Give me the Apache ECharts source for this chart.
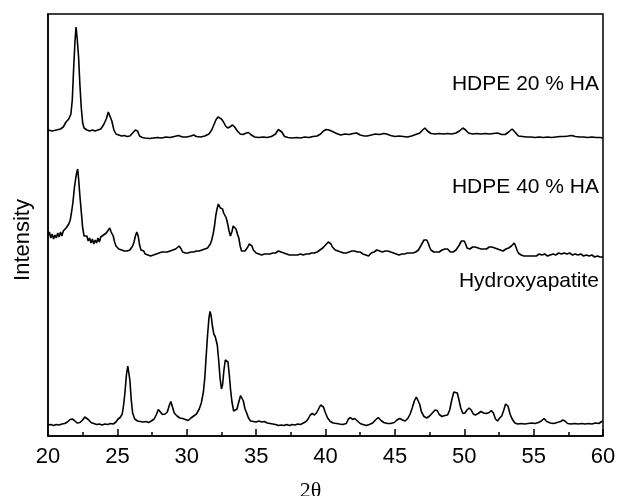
<!DOCTYPE html>
<html>
<head>
<meta charset="utf-8">
<title>XRD patterns</title>
<script src="https://cdn.jsdelivr.net/npm/echarts@6/dist/echarts.min.js"></script>
<style>
  html, body { margin: 0; padding: 0; background: #fff; }
  #chart { width: 619px; height: 496px; }
</style>
</head>
<body>
<div id="chart"></div>
<script>
// Diffraction patterns, stacked with vertical offsets: [2θ (deg), intensity (a.u.)]
const hdpe20 = [
  [20.0,306],[20.3,305],[20.6,306],[20.9,307],[21.1,309],[21.3,314],[21.5,317],[21.65,322],[21.75,336],
  [21.85,368],[21.95,396],[22.02,409],[22.1,398],[22.2,380],[22.3,351],[22.4,328],[22.5,313],[22.6,308],
  [22.8,306],[23.0,305],[23.2,306],[23.4,305],[23.6,306],[23.8,307],[24.0,311],[24.2,317],[24.35,324],
  [24.45,323],[24.6,315],[24.75,306],[24.9,302],[25.1,301],[25.3,300],[25.5,300.5],[25.7,299.5],[25.9,300],
  [26.1,303],[26.3,306],[26.45,305],[26.6,300],[26.8,298.5],[27.0,298],[27.3,297.5],[27.6,298],[27.9,298.5],
  [28.2,298],[28.5,299],[28.8,298.5],[29.1,299.5],[29.4,300.5],[29.7,299],[30.0,299],[30.3,300],[30.5,301],
  [30.7,299.5],[31.0,299],[31.3,300],[31.6,302],[31.8,306],[31.95,311],[32.1,316],[32.25,319],[32.35,318.5],
  [32.5,317],[32.65,314],[32.8,310],[32.95,308],[33.1,309],[33.3,311],[33.45,309],[33.65,305],[33.85,302],
  [34.05,301.5],[34.3,303],[34.45,303.5],[34.65,301],[34.9,299],[35.2,298.5],[35.5,299],[35.8,298.5],
  [36.1,299.5],[36.4,302],[36.6,306.5],[36.7,307.5],[36.85,304],[37.05,299.5],[37.3,298.5],[37.6,298],
  [37.9,298.5],[38.2,298],[38.5,299],[38.8,298.5],[39.1,299.5],[39.4,300],[39.65,302],[39.85,305],[40.05,306.5],
  [40.25,306],[40.5,304.5],[40.8,302.5],[41.1,301],[41.4,302],[41.7,301.5],[42.0,302.5],[42.25,303],[42.5,301],
  [42.8,300],[43.0,300],[43.3,301],[43.6,302],[43.9,301.5],[44.2,302.5],[44.4,302],[44.7,300.5],[45.0,299.5],
  [45.3,300],[45.6,299.5],[45.9,299],[46.2,300],[46.5,301.5],[46.8,303],[47.0,306],[47.17,308],[47.35,305],
  [47.6,302.5],[47.9,302],[48.2,302.5],[48.5,302],[48.8,302.5],[49.1,302],[49.4,303],[49.65,305],[49.9,308],
  [50.1,306],[50.3,303],[50.6,302],[50.9,302.5],[51.2,302],[51.5,302.5],[51.8,302],[52.1,302.5],[52.4,303],
  [52.7,301.5],[52.95,301.5],[53.2,304],[53.45,307],[53.65,304],[53.9,300],[54.2,299.5],[54.5,299],[54.8,299],
  [55.1,298.5],[55.4,299],[55.7,298.5],[56.0,299],[56.3,298.5],[56.6,299],[56.9,299.5],[57.2,299.5],[57.5,300],
  [57.75,300.5],[58.0,299.5],[58.3,299],[58.6,299],[58.9,298.5],[59.2,299],[59.5,298.5],[59.8,298.5],[60.0,298]
];

const hdpe40 = [
  [20.0,200],[20.1,204],[20.2,198],[20.3,202],[20.4,197],[20.5,201],[20.6,198],[20.7,203],[20.8,199],[20.9,204],
  [21.0,200],[21.1,205],[21.2,203],[21.3,208],[21.4,207],[21.5,212],[21.6,216],[21.7,224],[21.8,234],[21.9,248],
  [22.0,258],[22.08,264],[22.14,267],[22.2,258],[22.3,240],[22.4,224],[22.5,208],[22.6,200],[22.7,198],[22.8,200],
  [22.9,195],[23.0,198],[23.1,193],[23.2,197],[23.3,192],[23.4,196],[23.5,193],[23.6,198],[23.7,194],[23.8,199],
  [23.9,197],[24.0,201],[24.1,200],[24.2,203],[24.3,205],[24.45,208],[24.55,204],[24.7,200],[24.8,194],[24.9,190],
  [25.0,189],[25.1,187],[25.2,189],[25.3,186],[25.4,188],[25.5,185],[25.6,187],[25.7,185],[25.8,187],[25.9,186],
  [26.0,188],[26.1,190],[26.2,194],[26.3,200],[26.4,204],[26.5,200],[26.6,191],[26.7,186],[26.8,184],[26.9,185],
  [27.0,182],[27.1,184],[27.2,181],[27.3,183],[27.4,180],[27.5,182],[27.6,181],[27.7,183],[27.8,182],[27.9,184],
  [28.0,183],[28.1,185],[28.2,184],[28.3,186],[28.4,184],[28.5,186],[28.6,184],[28.7,183],[28.8,185],[28.9,184],
  [29.0,186],[29.1,185],[29.2,187],[29.3,189],[29.45,190],[29.6,187],[29.7,184],[29.8,185],[29.9,183],[30.0,185],
  [30.1,183],[30.2,185],[30.3,184],[30.4,186],[30.5,184],[30.6,186],[30.7,185],[30.8,187],[30.9,185],[31.0,187],
  [31.1,186],[31.2,188],[31.3,187],[31.4,189],[31.5,188],[31.6,190],[31.7,192],[31.8,196],[31.9,202],[32.0,210],
  [32.1,221],[32.2,228],[32.28,232],[32.35,230],[32.42,228],[32.5,226],[32.58,227],[32.66,223],[32.75,221],
  [32.85,218],[32.95,212],[33.05,205],[33.15,200],[33.25,204],[33.35,210],[33.45,211],[33.55,207],[33.65,202],
  [33.75,198],[33.85,190],[33.95,185],[34.05,187],[34.2,185],[34.3,186],[34.4,189],[34.5,192],[34.6,194],
  [34.7,190],[34.8,186],[34.9,184],[35.0,183],[35.1,184],[35.2,182],[35.3,183],[35.4,181],[35.5,183],[35.6,182],
  [35.7,184],[35.8,182],[35.9,183],[36.0,182],[36.1,184],[36.2,183],[36.3,185],[36.4,183],[36.5,184],[36.6,185],
  [36.7,183],[36.8,184],[36.9,182],[37.0,183],[37.1,181],[37.2,182],[37.3,180],[37.4,181],[37.5,180],[37.6,181],
  [37.7,179],[37.8,181],[37.9,180],[38.0,181],[38.1,180],[38.2,182],[38.3,180],[38.4,181],[38.5,180],[38.6,182],
  [38.7,181],[38.8,182],[38.9,181],[39.0,183],[39.1,182],[39.2,183],[39.3,184],[39.4,184],[39.5,185],[39.6,186],
  [39.7,187],[39.8,188],[39.9,189],[40.0,191],[40.1,192],[40.2,194],[40.3,195],[40.4,192],[40.5,189],[40.6,187],
  [40.7,186],[40.8,184],[40.9,185],[41.0,183],[41.1,184],[41.2,182],[41.3,183],[41.4,182],[41.5,183],[41.6,182],
  [41.7,184],[41.8,183],[41.9,185],[42.0,184],[42.1,185],[42.2,186],[42.3,184],[42.4,186],[42.5,184],[42.6,183],
  [42.7,182],[42.8,183],[42.9,181],[43.0,182],[43.1,180],[43.2,181],[43.3,183],[43.4,182],[43.5,184],[43.6,185],
  [43.7,186],[43.8,184],[43.9,185],[44.0,183],[44.1,184],[44.2,183],[44.3,185],[44.4,184],[44.5,185],[44.6,183],
  [44.7,184],[44.8,182],[44.9,183],[45.0,181],[45.1,182],[45.2,180],[45.3,181],[45.4,180],[45.5,182],[45.6,181],
  [45.7,182],[45.8,181],[45.9,183],[46.0,182],[46.1,183],[46.2,182],[46.3,183],[46.4,183],[46.5,184],[46.6,185],
  [46.7,186],[46.8,188],[46.9,191],[47.0,193],[47.1,196],[47.2,197],[47.3,196],[47.4,193],[47.5,189],[47.6,186],
  [47.7,185],[47.8,184],[47.9,185],[48.0,184],[48.1,186],[48.2,184],[48.3,185],[48.4,186],[48.5,185],[48.6,187],
  [48.7,186],[48.8,187],[48.9,185],[49.0,184],[49.1,183],[49.2,184],[49.3,183],[49.4,186],[49.5,188],[49.6,190],
  [49.7,192],[49.8,195],[49.9,197],[50.0,195],[50.1,192],[50.2,188],[50.3,186],[50.4,187],[50.5,188],[50.6,189],
  [50.7,190],[50.8,189],[50.9,187],[51.0,188],[51.1,186],[51.2,187],[51.3,186],[51.4,187],[51.5,188],[51.6,187],
  [51.7,188],[51.8,189],[51.9,188],[52.0,189],[52.1,187],[52.2,188],[52.3,186],[52.4,187],[52.5,185],[52.6,186],
  [52.7,184],[52.8,185],[52.9,186],[53.0,187],[53.1,188],[53.2,188],[53.3,189],[53.4,190],[53.5,192],[53.6,193],
  [53.7,190],[53.8,186],[53.9,183],[54.0,182],[54.1,181],[54.2,182],[54.3,180],[54.4,181],[54.5,180],[54.6,181],
  [54.7,180],[54.8,179],[54.9,180],[55.0,181],[55.2,180],[55.4,182],[55.6,181],[55.8,182],[56.0,180],[56.2,181],
  [56.4,182],[56.6,181],[56.8,183],[57.0,182],[57.2,183],[57.4,182],[57.6,183],[57.8,181],[58.0,182],[58.2,181],
  [58.4,182],[58.6,180],[58.8,181],[59.0,180],[59.2,181],[59.4,179],[59.6,180],[59.8,179],[60.0,179]
];

const hydroxyapatite = [
  [20.0,11],[20.2,11.5],[20.4,10.5],[20.6,11.5],[20.8,11],[21.0,12],[21.2,12.5],[21.4,14],[21.6,16.5],[21.75,17],
  [21.9,15.5],[22.1,13],[22.3,13.5],[22.5,16],[22.65,19],[22.75,19.5],[22.9,16.5],[23.1,13.5],[23.3,12.5],
  [23.5,11.5],[23.7,12],[23.9,11],[24.1,12],[24.3,11.5],[24.5,12.5],[24.7,12],[24.9,14],[25.05,17],[25.2,18.5],
  [25.35,22],[25.45,31],[25.55,44],[25.65,61],[25.75,70],[25.82,69],[25.9,56],[26.0,36],[26.1,23],[26.25,17],
  [26.45,15],[26.65,14.5],[26.85,14],[27.05,14.5],[27.25,13.5],[27.45,15],[27.65,17],[27.8,21],[27.95,26.5],
  [28.1,24],[28.25,21.5],[28.45,22],[28.6,24],[28.75,31],[28.85,34.5],[28.95,30],[29.1,23],[29.3,20],[29.5,18],
  [29.7,17.5],[29.9,16.5],[30.1,15.5],[30.3,18],[30.5,20],[30.7,22],[30.9,27],[31.05,33],[31.2,44],[31.3,58],
  [31.4,80],[31.5,101],[31.6,118],[31.68,124.5],[31.76,120],[31.85,110],[31.95,102],[32.05,99.5],[32.12,99],
  [32.2,91],[32.3,76],[32.4,58],[32.5,47],[32.58,51],[32.68,66],[32.78,76],[32.88,78],[32.97,74],[33.06,62],
  [33.16,46],[33.26,34],[33.38,25],[33.5,24.5],[33.62,27],[33.75,34],[33.88,40.5],[33.98,41],[34.08,35],
  [34.2,27],[34.32,23],[34.45,18],[34.6,15],[34.8,14.5],[35.0,14],[35.2,15],[35.4,14],[35.6,14.5],[35.8,13],
  [36.0,12.5],[36.2,12],[36.4,11.5],[36.6,10.5],[36.8,11],[37.0,10.5],[37.2,11.5],[37.4,10.5],[37.6,11.5],
  [37.8,11],[38.0,12],[38.2,11.5],[38.4,13],[38.6,14.5],[38.75,17],[38.9,21],[39.05,22.5],[39.2,21],[39.35,23],
  [39.5,27],[39.65,31],[39.75,31.5],[39.85,29],[40.0,23],[40.15,18],[40.35,14.5],[40.55,13],[40.8,12.5],
  [41.0,12],[41.25,11.5],[41.5,12.5],[41.65,17],[41.8,18.5],[41.95,16.5],[42.1,17.5],[42.3,15],[42.5,12.5],
  [42.7,11.5],[42.95,10.5],[43.15,11.5],[43.4,13],[43.6,16],[43.8,18.5],[44.0,15.5],[44.2,13.5],[44.45,12.5],
  [44.7,12.5],[44.95,13.5],[45.15,16],[45.35,17.5],[45.55,16],[45.75,15],[45.95,18],[46.1,22],[46.25,28],
  [46.4,35],[46.55,39],[46.65,38],[46.78,32],[46.92,24],[47.1,19.5],[47.3,18],[47.5,20],[47.7,23],[47.9,26],
  [48.05,25.5],[48.2,21.5],[48.4,19.5],[48.6,20.5],[48.8,21],[48.95,26],[49.1,36],[49.25,44],[49.38,46],
  [49.5,43],[49.62,36],[49.75,28],[49.9,22.5],[50.05,23],[50.2,26],[50.35,28],[50.5,26],[50.65,22],[50.8,21],
  [51.0,22.5],[51.2,24.5],[51.4,23],[51.6,22.5],[51.8,23.5],[51.95,25.5],[52.1,23],[52.25,17],[52.4,15],
  [52.55,18],[52.7,20],[52.85,26],[52.98,32],[53.06,33],[53.15,30],[53.3,22],[53.45,17],[53.65,13],[53.85,12],
  [54.1,12.5],[54.35,12],[54.6,12.5],[54.85,13],[55.1,12.5],[55.35,13.5],[55.55,15],[55.75,17.5],[55.95,14.5],
  [56.2,13],[56.45,12.5],[56.7,13.5],[56.95,14.5],[57.1,16],[57.25,15],[57.45,12.5],[57.7,12],[57.95,12.5],
  [58.2,12],[58.45,12.5],[58.7,12],[58.95,12.5],[59.2,12],[59.45,13],[59.7,12.5],[59.9,14.5],[60.0,15]
];

// Trace labels and axis extents
const traceNames = ['HDPE 20 % HA', 'HDPE 40 % HA', 'Hydroxyapatite'];
const xTickLabels = ['20', '25', '30', '35', '40', '45', '50', '55', '60'];
const xRange = [20, 60];
const yRange = [0, 422];

const chart = echarts.init(document.getElementById('chart'), null, { renderer: 'canvas' });

const sans = 'Liberation Sans, Arial, Helvetica, sans-serif';
const serif = 'Liberation Serif, Times New Roman, serif';

function trace(name, data) {
  return {
    name: name,
    type: 'line',
    data: data,
    showSymbol: false,
    symbol: 'none',
    smooth: false,
    silent: true,
    lineStyle: { color: '#000', width: 1.6 },
    z: 3
  };
}

chart.setOption({
  animation: false,
  backgroundColor: '#fff',
  grid: {
    left: 48, right: 16, top: 14, bottom: 60,
    outerBoundsMode: 'none',
    containLabel: false,
    show: true, borderColor: '#000', borderWidth: 1.5, backgroundColor: 'transparent'
  },
  xAxis: {
    type: 'value',
    min: xRange[0], max: xRange[1], interval: 5,
    name: '2θ',
    nameLocation: 'middle',
    nameGap: 44,
    nameTextStyle: { fontFamily: serif, fontSize: 22, color: '#000', padding: [0, 30, 0, 0] },
    axisLine: { show: true, lineStyle: { color: '#000', width: 1.5 } },
    axisTick: { show: true, inside: true, length: 7, lineStyle: { color: '#000', width: 1.5 } },
    minorTick: { show: true, splitNumber: 2, length: 4, lineStyle: { color: '#000', width: 1.5 } },
    axisLabel: {
      fontFamily: sans, fontSize: 22, color: '#000', margin: 10,
      formatter: function (v) {
        const i = Math.round((v - xRange[0]) / 5);
        return xTickLabels[i] !== undefined ? xTickLabels[i] : '';
      }
    },
    splitLine: { show: false }
  },
  yAxis: {
    type: 'value',
    min: yRange[0], max: yRange[1],
    name: 'Intensity',
    nameLocation: 'middle',
    nameRotate: 90,
    nameGap: 14,
    nameTextStyle: { fontFamily: sans, fontSize: 22, color: '#000', padding: [0, 30, 0, 0] },
    axisLine: { show: true, lineStyle: { color: '#000', width: 1.5 } },
    axisTick: { show: false },
    axisLabel: { show: false },
    splitLine: { show: false }
  },
  graphic: [
    { type: 'text', right: 20, top: 74, style: { text: traceNames[0], font: '21px ' + sans, fill: '#000' } },
    { type: 'text', right: 20, top: 177, style: { text: traceNames[1], font: '21px ' + sans, fill: '#000' } },
    { type: 'text', right: 20, top: 271, style: { text: traceNames[2], font: '21px ' + sans, fill: '#000' } }
  ],
  series: [
    trace(traceNames[0], hdpe20),
    trace(traceNames[1], hdpe40),
    trace(traceNames[2], hydroxyapatite)
  ]
});
</script>
</body>
</html>
